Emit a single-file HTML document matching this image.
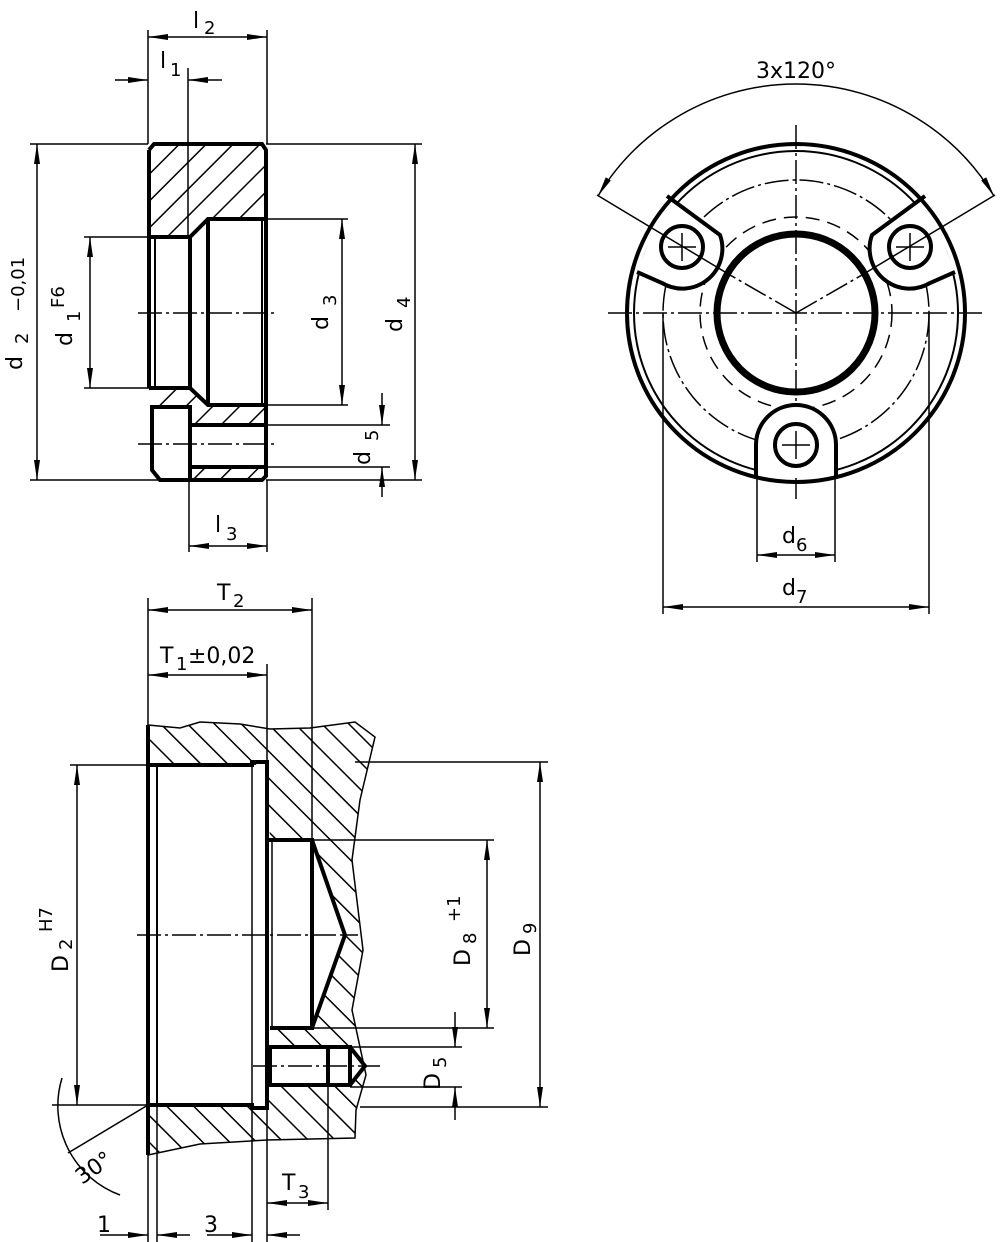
<!DOCTYPE html>
<html><head><meta charset="utf-8"><style>html,body{margin:0;padding:0;background:#fff}svg{display:block}text{font-family:"DejaVu Sans","Liberation Sans",sans-serif;font-size:22px;fill:#000}</style></head>
<body>
<svg width="1000" height="1242" viewBox="0 0 1000 1242" xmlns="http://www.w3.org/2000/svg">
<defs>
<marker id="a" viewBox="0 0 20 6" refX="20" refY="3" markerWidth="20" markerHeight="6" markerUnits="userSpaceOnUse" orient="auto-start-reverse"><path d="M0,0 L20,3 L0,6 Z" fill="#000"/></marker>
<pattern id="h1" width="19" height="19" patternUnits="userSpaceOnUse" patternTransform="rotate(45)"><line x1="0" y1="0" x2="0" y2="19" stroke="#000" stroke-width="3"/></pattern>
<pattern id="h2" width="19" height="19" patternUnits="userSpaceOnUse" patternTransform="rotate(-45)"><line x1="0" y1="0" x2="0" y2="19" stroke="#000" stroke-width="3"/></pattern>
</defs>
<g fill="none" stroke="#000">
<path d="M149,150 L154,144 L262,144 L266,150 L266,219 L208,219 L190,237 L149,237 Z" fill="url(#h1)" stroke="none"/>
<path d="M149,388 L190,388 L208,405 L266,405 L266,425 L190,425 L190,407 L149,407 Z" fill="url(#h1)" stroke="none"/>
<path d="M190,467 L266,467 L266,476 L262,480 L190,480 Z" fill="url(#h1)" stroke="none"/>
<g stroke-width="4">
<path d="M149,150 L154,144 L262,144 L266,150 L266,476 L262,480 L190,480"/>
<path d="M149,150 L149,388"/>
<path d="M149,237 L190,237 L208,219 L266,219"/>
<path d="M149,388 L190,388 L208,405 L266,405"/>
<path d="M190,237 L190,388"/><path d="M208,219 L208,405"/>
<path d="M152,407 L190,407 L190,480 L160,480 L152,470 Z"/>
<path d="M190,425 L266,425 M190,467 L266,467"/>
</g>
<line x1="155" y1="237" x2="155" y2="388" stroke-width="2"/>
<line x1="262" y1="219" x2="262" y2="405" stroke-width="2"/>
<g stroke-width="1.5" stroke-dasharray="24,4,3,4">
<line x1="138" y1="313" x2="276" y2="313"/><line x1="138" y1="444" x2="276" y2="444"/>
</g>
<g stroke-width="1.5">
<line x1="148" y1="30" x2="148" y2="144"/><line x1="267" y1="30" x2="267" y2="144"/>
<line x1="148" y1="37" x2="267" y2="37" marker-start="url(#a)" marker-end="url(#a)"/>
<line x1="188" y1="68" x2="188" y2="237"/>
<line x1="115" y1="80" x2="148" y2="80" marker-end="url(#a)"/><line x1="222" y1="80" x2="188" y2="80" marker-end="url(#a)"/>
<line x1="30" y1="144" x2="148" y2="144"/><line x1="30" y1="480" x2="190" y2="480"/>
<line x1="37" y1="144" x2="37" y2="480" marker-start="url(#a)" marker-end="url(#a)"/>
<line x1="84" y1="237" x2="149" y2="237"/><line x1="84" y1="388" x2="149" y2="388"/>
<line x1="90" y1="237" x2="90" y2="388" marker-start="url(#a)" marker-end="url(#a)"/>
<line x1="266" y1="219" x2="348" y2="219"/><line x1="266" y1="405" x2="348" y2="405"/>
<line x1="342" y1="219" x2="342" y2="405" marker-start="url(#a)" marker-end="url(#a)"/>
<line x1="266" y1="144" x2="422" y2="144"/><line x1="266" y1="480" x2="422" y2="480"/>
<line x1="415" y1="144" x2="415" y2="480" marker-start="url(#a)" marker-end="url(#a)"/>
<line x1="266" y1="425" x2="390" y2="425"/><line x1="266" y1="467" x2="390" y2="467"/>
<line x1="382" y1="393" x2="382" y2="425" marker-end="url(#a)"/><line x1="382" y1="497" x2="382" y2="467" marker-end="url(#a)"/>
<line x1="189" y1="480" x2="189" y2="552"/><line x1="267" y1="480" x2="267" y2="552"/>
<line x1="189" y1="546" x2="267" y2="546" marker-start="url(#a)" marker-end="url(#a)"/>
</g>
<g stroke-width="1.5" stroke-dasharray="24,4,3,4">
<line x1="608" y1="313" x2="984" y2="313"/><line x1="796" y1="125" x2="796" y2="500"/>
<circle cx="796" cy="313" r="133"/>
<line x1="796" y1="313" x2="730" y2="275"/><line x1="796" y1="313" x2="862" y2="275"/>
</g>
<circle cx="796" cy="313" r="96" stroke-width="1.5" stroke-dasharray="14,8"/>
<circle cx="796" cy="313" r="79" stroke-width="7"/>
<circle cx="796" cy="313" r="162" stroke-width="2"/>
<g stroke-width="4" fill="#fff">
<path d="M756,478 L756,445 A40,40 0 0 1 836,445 L836,478"/>
<path d="M667,196 L720,235 A40,40 0 0 1 662,283 L637,272"/>
<path d="M925,196 L872,235 A40,40 0 0 0 930,283 L955,272"/>
</g>
<circle cx="796" cy="313" r="169" stroke-width="4"/>
<g stroke-width="4" fill="#fff">
<circle cx="796" cy="445" r="21"/><circle cx="682" cy="247" r="21"/><circle cx="910" cy="247" r="21"/>
</g>
<g stroke-width="1.5">
<line x1="782" y1="445" x2="810" y2="445"/><line x1="796" y1="431" x2="796" y2="459"/>
<line x1="668" y1="247" x2="696" y2="247"/><line x1="682" y1="233" x2="682" y2="261"/>
<line x1="896" y1="247" x2="924" y2="247"/><line x1="910" y1="233" x2="910" y2="261"/>
<line x1="597" y1="195" x2="730" y2="275"/><line x1="995" y1="195" x2="862" y2="275"/>
<path d="M598,196 A231,231 0 0 1 994,196" marker-start="url(#a)" marker-end="url(#a)"/>
<line x1="757" y1="445" x2="757" y2="562"/><line x1="835" y1="445" x2="835" y2="562"/>
<line x1="757" y1="555" x2="835" y2="555" marker-start="url(#a)" marker-end="url(#a)"/>
<line x1="663" y1="313" x2="663" y2="614"/><line x1="929" y1="313" x2="929" y2="614"/>
<line x1="663" y1="607" x2="929" y2="607" marker-start="url(#a)" marker-end="url(#a)"/>
</g>
<path d="M148,725 L180,728 L200,722 L240,724 L270,729 L310,728 L355,722 L375,737 L360,800 L352,860 L363,950 L352,1010 L366,1075 L356,1110 L355,1138 L267,1140 L200,1144 L148,1155 L148,1105 L252,1105 L252,1102 L267,1102 L267,1105 L267,1085 L350,1085 L363,1066 L350,1047 L270,1047 L270,1028 L312,1028 L345,935 L312,840 L270,840 L267,765 L148,765 Z" fill="url(#h2)" stroke="none"/>
<rect x="157" y="765" width="95" height="340" fill="#fff" stroke="none"/>
<rect x="252" y="765" width="15" height="340" fill="#fff" stroke="none"/>
<rect x="270" y="840" width="42" height="188" fill="#fff" stroke="none"/>
<path d="M312,840 L345,935 L312,1028 Z" fill="#fff" stroke="none"/>
<rect x="270" y="1047" width="80" height="38" fill="#fff" stroke="none"/>
<path d="M350,1047 L365,1066 L350,1085 Z" fill="#fff" stroke="none"/>
<g stroke-width="1.5">
<path d="M148,725 L180,728 L200,722 L240,724 L270,729 L310,728 L355,722 L375,737 L360,800 L352,860 L363,950 L352,1010 L366,1075 L356,1110 L355,1138 L267,1140 L200,1144 L148,1155"/>
</g>
<g stroke-width="4">
<line x1="148" y1="725" x2="148" y2="1155"/>
<path d="M150,765 L252,765 L252,762 L267,762 L267,1108 L252,1108 L252,1105 L150,1105"/>
<path d="M267,840 L312,840 L312,1028 L270,1028"/>
<path d="M312,840 L345,935 L312,1028"/>
<path d="M270,1047 L350,1047 L350,1085 L270,1085 Z"/><line x1="328" y1="1047" x2="328" y2="1085"/>
<path d="M350,1047 L365,1066 L350,1085"/>
</g>
<line x1="157" y1="765" x2="157" y2="1105" stroke-width="2"/>
<line x1="252" y1="765" x2="252" y2="1105" stroke-width="1.5"/>
<line x1="272" y1="840" x2="272" y2="1028" stroke-width="1.5"/>
<g stroke-width="1.5" stroke-dasharray="24,4,3,4">
<line x1="137" y1="935" x2="358" y2="935"/><line x1="253" y1="1066" x2="380" y2="1066"/>
</g>
<g stroke-width="1.5">
<line x1="148" y1="598" x2="148" y2="725"/><line x1="312" y1="598" x2="312" y2="840"/>
<line x1="148" y1="610" x2="312" y2="610" marker-start="url(#a)" marker-end="url(#a)"/>
<line x1="267" y1="664" x2="267" y2="762"/>
<line x1="148" y1="675" x2="267" y2="675" marker-start="url(#a)" marker-end="url(#a)"/>
<line x1="70" y1="765" x2="150" y2="765"/><line x1="52" y1="1105" x2="150" y2="1105"/>
<line x1="77" y1="765" x2="77" y2="1105" marker-start="url(#a)" marker-end="url(#a)"/>
<line x1="355" y1="762" x2="548" y2="762"/><line x1="360" y1="1107" x2="548" y2="1107"/>
<line x1="540" y1="762" x2="540" y2="1107" marker-start="url(#a)" marker-end="url(#a)"/>
<line x1="312" y1="840" x2="494" y2="840"/><line x1="312" y1="1028" x2="494" y2="1028"/>
<line x1="487" y1="840" x2="487" y2="1028" marker-start="url(#a)" marker-end="url(#a)"/>
<line x1="350" y1="1047" x2="462" y2="1047"/><line x1="350" y1="1087" x2="462" y2="1087"/>
<line x1="455" y1="1012" x2="455" y2="1047" marker-end="url(#a)"/><line x1="455" y1="1120" x2="455" y2="1087" marker-end="url(#a)"/>
<line x1="328" y1="1085" x2="328" y2="1210"/><line x1="267" y1="1108" x2="267" y2="1242"/>
<line x1="267" y1="1203" x2="328" y2="1203" marker-start="url(#a)" marker-end="url(#a)"/>
<line x1="157" y1="1105" x2="157" y2="1242"/><line x1="252" y1="1108" x2="252" y2="1242"/><line x1="148" y1="1155" x2="148" y2="1242"/>
<line x1="100" y1="1235" x2="148" y2="1235" marker-end="url(#a)"/><line x1="190" y1="1235" x2="157" y2="1235" marker-end="url(#a)"/>
<line x1="207" y1="1235" x2="252" y2="1235" marker-end="url(#a)"/><line x1="300" y1="1235" x2="267" y2="1235" marker-end="url(#a)"/>
<line x1="148" y1="1105" x2="68" y2="1153"/>
<path d="M62,1078 A95,95 0 0 0 120,1195"/>
</g>
</g>
<text x="193" y="28">l</text><text x="204" y="34" style="font-size:18px">2</text>
<text x="160" y="68">l</text><text x="170" y="76" style="font-size:18px">1</text>
<text x="215" y="532">l</text><text x="226" y="540" style="font-size:18px">3</text>
<text transform="translate(22,370) rotate(-90)">d</text><text transform="translate(28,344) rotate(-90)" style="font-size:18px">2</text>
<text transform="translate(24,312) rotate(-90)" style="font-size:18px">−0,01</text>
<text transform="translate(72,346) rotate(-90)">d</text><text transform="translate(80,322) rotate(-90)" style="font-size:18px">1</text>
<text transform="translate(64,308) rotate(-90)" style="font-size:18px">F6</text>
<text transform="translate(328,330) rotate(-90)">d</text><text transform="translate(336,306) rotate(-90)" style="font-size:18px">3</text>
<text transform="translate(402,332) rotate(-90)">d</text><text transform="translate(410,308) rotate(-90)" style="font-size:18px">4</text>
<text transform="translate(370,465) rotate(-90)">d</text><text transform="translate(378,441) rotate(-90)" style="font-size:18px">5</text>
<text x="756" y="78">3x120°</text>
<text x="782" y="543">d</text><text x="796" y="551" style="font-size:18px">6</text>
<text x="782" y="595">d</text><text x="796" y="603" style="font-size:18px">7</text>
<text x="217" y="600">T</text><text x="233" y="607" style="font-size:18px">2</text>
<text x="160" y="663">T</text><text x="176" y="670" style="font-size:18px">1</text><text x="188" y="663">±0,02</text>
<text x="282" y="1190">T</text><text x="298" y="1198" style="font-size:18px">3</text>
<text x="97" y="1232">1</text><text x="204" y="1232">3</text>
<text transform="translate(82,1185) rotate(-35)">30°</text>
<text transform="translate(68,972) rotate(-90)">D</text><text transform="translate(72,950) rotate(-90)" style="font-size:18px">2</text>
<text transform="translate(52,932) rotate(-90)" style="font-size:18px">H7</text>
<text transform="translate(470,966) rotate(-90)">D</text><text transform="translate(476,944) rotate(-90)" style="font-size:18px">8</text>
<text transform="translate(460,922) rotate(-90)" style="font-size:18px">+1</text>
<text transform="translate(530,956) rotate(-90)">D</text><text transform="translate(536,934) rotate(-90)" style="font-size:18px">9</text>
<text transform="translate(440,1090) rotate(-90)">D</text><text transform="translate(446,1068) rotate(-90)" style="font-size:18px">5</text>
</svg>
</body></html>
